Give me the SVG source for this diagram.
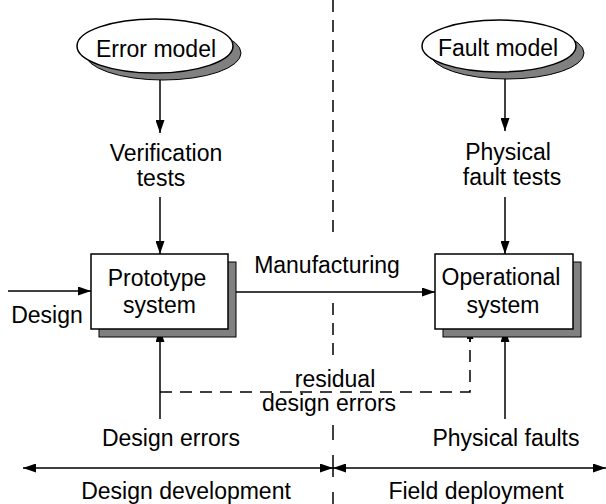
<svg xmlns="http://www.w3.org/2000/svg" width="606" height="504" viewBox="0 0 606 504">
<style>
text{font-family:"Liberation Sans",Arial,sans-serif;font-size:23px;fill:#000;text-anchor:middle}
.ln{stroke:#000;stroke-width:1.5;fill:none}
.dash{stroke:#000;stroke-width:1.5;fill:none;stroke-dasharray:12 8}
.shadow{fill:#808080;stroke:#000;stroke-width:1}
.node{fill:#fff;stroke:#000;stroke-width:1.5}
</style>
<defs>
<marker id="arr" viewBox="0 0 13 9" refX="13" refY="4.5" markerWidth="13" markerHeight="9" markerUnits="userSpaceOnUse" orient="auto-start-reverse">
<path d="M0,0 L13,4.5 L0,9 z" fill="#000"/>
</marker>
<marker id="arrs" viewBox="0 0 9 7" refX="9" refY="3.5" markerWidth="9" markerHeight="7" markerUnits="userSpaceOnUse" orient="auto">
<path d="M0,0 L9,3.5 L0,7 z" fill="#000"/>
</marker>
</defs>
<g id="divider">
<line class="dash" x1="333" y1="0" x2="333" y2="240"/>
<line class="dash" x1="333" y1="303" x2="333" y2="358"/>
<line class="ln" x1="333" y1="425" x2="333" y2="440"/>
<line class="ln" x1="333" y1="455" x2="333" y2="477"/>
<line class="ln" x1="333" y1="492" x2="333" y2="504"/>
</g>
<g id="connectors">
<line class="ln" x1="160" y1="74" x2="160" y2="133" marker-end="url(#arr)"/>
<line class="ln" x1="160" y1="197" x2="160" y2="254" marker-end="url(#arr)"/>
<line class="ln" x1="505" y1="74" x2="505" y2="131" marker-end="url(#arr)"/>
<line class="ln" x1="505" y1="197" x2="505" y2="254" marker-end="url(#arr)"/>
<line class="ln" x1="8" y1="291" x2="91" y2="291" marker-end="url(#arr)"/>
<line class="ln" x1="228" y1="292" x2="435" y2="292" marker-end="url(#arr)"/>
<path class="dash" d="M160,392 H470 V338"/>
<line class="ln" x1="470" y1="342" x2="470" y2="330" marker-end="url(#arrs)"/>
<line class="ln" x1="160" y1="419" x2="160" y2="329" marker-end="url(#arr)"/>
<line class="ln" x1="505" y1="419" x2="505" y2="329" marker-end="url(#arr)"/>
<line class="ln" x1="23" y1="468" x2="333" y2="468" marker-start="url(#arr)" marker-end="url(#arr)"/>
<line class="ln" x1="333" y1="468" x2="606" y2="468" marker-start="url(#arr)" marker-end="url(#arr)"/>
</g>
<g id="error-model">
<ellipse class="shadow" cx="163" cy="53" rx="78" ry="27"/>
<ellipse class="node" cx="155" cy="46" rx="78" ry="27"/>
<text x="156" y="57">Error model</text>
</g>
<g id="fault-model">
<ellipse class="shadow" cx="507" cy="53" rx="77" ry="26"/>
<ellipse class="node" cx="499" cy="46" rx="77" ry="26"/>
<text x="498" y="56">Fault model</text>
</g>
<g id="verification-tests">
<text x="166" y="161">Verification</text>
<text x="161" y="186">tests</text>
</g>
<g id="physical-fault-tests">
<text x="508" y="160">Physical</text>
<text x="512" y="185">fault tests</text>
</g>
<g id="prototype-system">
<rect class="shadow" x="99" y="262" width="137" height="75"/>
<rect class="node" x="91" y="254" width="137" height="75"/>
<text x="157" y="286">Prototype</text>
<text x="159.5" y="313">system</text>
</g>
<g id="operational-system">
<rect class="shadow" x="443" y="262" width="138" height="75"/>
<rect class="node" x="435" y="254" width="138" height="75"/>
<text x="501" y="285">Operational</text>
<text x="503" y="313">system</text>
</g>
<g id="labels">
<text x="327" y="273">Manufacturing</text>
<text x="47" y="323">Design</text>
<text x="335" y="387">residual</text>
<text x="329" y="411">design errors</text>
<text x="171" y="446">Design errors</text>
<text x="506" y="446">Physical faults</text>
<text x="186" y="499">Design development</text>
<text x="476" y="499">Field deployment</text>
</g>
</svg>
